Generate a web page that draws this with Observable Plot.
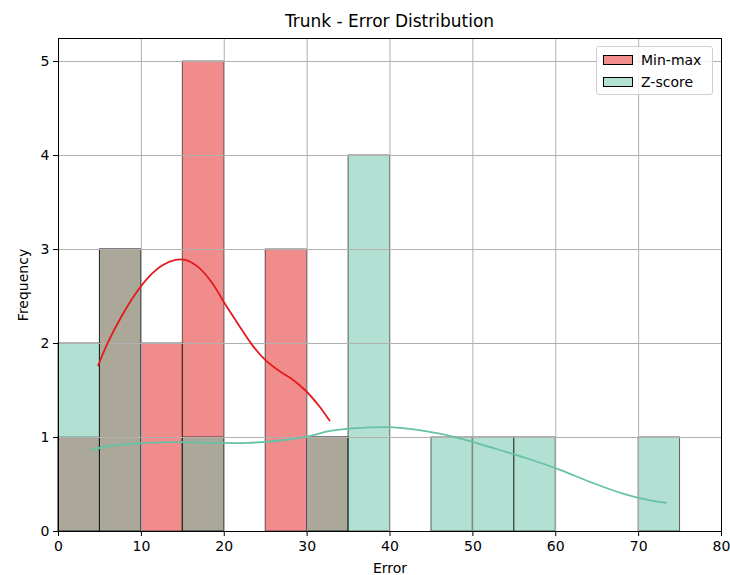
<!DOCTYPE html>
<html>
<head>
<meta charset="utf-8">
<script src="https://cdn.jsdelivr.net/npm/d3@7"></script>
<script src="https://cdn.jsdelivr.net/npm/@observablehq/plot@0.6"></script>
<style>
  html, body { margin: 0; padding: 0; background: white; }
  #wrap { position: relative; width: 730px; height: 575px; font-family: "DejaVu Sans", sans-serif; }
  #title { height: 30px; width: 730px; font-size: 17px; color: black; position: relative; }
  #title span { position: absolute; left: 389.5px; top: 11px; transform: translateX(-50%); white-space: nowrap; line-height: 20px; }
  #legend { position: absolute; left: 596px; top: 46px; width: 117px; height: 49px; border: 1px solid #d0d0d0; border-radius: 3px; background: rgba(255,255,255,0.8); box-sizing: border-box; font-size: 14px; }
  .lrow { position: absolute; left: 6px; height: 20px; display: flex; align-items: center; }
  .lpatch { width: 30px; height: 10px; border: 1px solid black; box-sizing: border-box; margin-right: 8px; }
</style>
</head>
<body>
<div id="wrap">
  <div id="title"><span>Trunk - Error Distribution</span></div>
  <div id="chart"></div>
  <div id="legend"></div>
</div>
<script>
// ---- data ----
const binStarts = [0, 5, 10, 15, 20, 25, 30, 35, 40, 45, 50, 55, 60, 65, 70];
const binWidth = 5;
const minmaxCounts = [1, 3, 2, 5, 0, 3, 1, 0, 0, 0, 0, 0, 0, 0, 0];
const zscoreCounts = [2, 3, 0, 1, 0, 0, 1, 4, 0, 1, 1, 1, 0, 0, 1];

const minmaxKdeX = [4.78, 6.07, 7.68, 9.29, 10.9, 12.5, 14.1, 15.3, 16.9, 18.5, 20.1, 21.8, 23.4, 25.0, 26.6, 28.2, 29.8, 31.4, 32.7];
const minmaxKdeY = [1.766, 2.03, 2.30, 2.53, 2.71, 2.83, 2.89, 2.89, 2.81, 2.65, 2.42, 2.19, 1.98, 1.82, 1.71, 1.62, 1.50, 1.34, 1.18];
const zscoreKdeX = [3.86, 6.67, 10.7, 14.7, 18.7, 22.8, 26.8, 30.0, 32.8, 36.0, 40.0, 44.1, 48.1, 52.1, 56.1, 60.2, 64.2, 68.2, 71.4, 73.3];
const zscoreKdeY = [0.869, 0.915, 0.943, 0.95, 0.943, 0.943, 0.968, 1.01, 1.07, 1.10, 1.11, 1.07, 1.00, 0.897, 0.79, 0.667, 0.525, 0.40, 0.33, 0.305];

const seriesNames = ["Min-max", "Z-score"];
const seriesColors = ["#e41a1c", "#66c2a5"];
const xTicks = [0, 10, 20, 30, 40, 50, 60, 70, 80];
const yTicks = [0, 1, 2, 3, 4, 5];

// ---- build tables ----
const mmBars = binStarts.map((s, i) => ({x1: s, x2: s + binWidth, y: minmaxCounts[i]})).filter(d => d.y > 0);
const zsBars = binStarts.map((s, i) => ({x1: s, x2: s + binWidth, y: zscoreCounts[i]})).filter(d => d.y > 0);
const mmKde = minmaxKdeX.map((x, i) => ({x, y: minmaxKdeY[i]}));
const zsKde = zscoreKdeX.map((x, i) => ({x, y: zscoreKdeY[i]}));

const chart = Plot.plot({
  width: 730,
  height: 545,
  marginLeft: 58,
  marginRight: 9,
  marginTop: 8,
  marginBottom: 44,
  style: {fontFamily: "DejaVu Sans, sans-serif", fontSize: "14px", color: "black", background: "white", overflow: "visible"},
  x: {domain: [0, 80], ticks: xTicks, label: null},
  y: {domain: [0, 5.245], ticks: yTicks, label: null},
  marks: [
    Plot.rectY(mmBars, {x1: "x1", x2: "x2", y: "y", fill: seriesColors[0], fillOpacity: 0.5, stroke: "black", strokeOpacity: 0.6, strokeWidth: 1, inset: 0}),
    Plot.rectY(zsBars, {x1: "x1", x2: "x2", y: "y", fill: seriesColors[1], fillOpacity: 0.5, stroke: "black", strokeOpacity: 0.6, strokeWidth: 1, inset: 0}),
    Plot.gridX(xTicks, {stroke: "#b0b0b0", strokeOpacity: 1, strokeWidth: 1}),
    Plot.gridY(yTicks, {stroke: "#b0b0b0", strokeOpacity: 1, strokeWidth: 1}),
    Plot.line(mmKde, {x: "x", y: "y", stroke: seriesColors[0], strokeWidth: 1.8, curve: "catmull-rom"}),
    Plot.line(zsKde, {x: "x", y: "y", stroke: seriesColors[1], strokeWidth: 1.8, curve: "catmull-rom"}),
    Plot.frame({stroke: "black", strokeWidth: 1}),
    Plot.axisX(xTicks, {tickSize: 5, tickPadding: 5, fontSize: 14, tickFormat: d3.format("d"), label: "Error", labelAnchor: "center", labelArrow: "none", labelOffset: 41}),
    Plot.axisY(yTicks, {tickSize: 5, tickPadding: 4, fontSize: 14, tickFormat: d3.format("d"), label: "Frequency", labelAnchor: "center", labelArrow: "none", labelOffset: 40})
  ]
});
document.getElementById("chart").appendChild(chart);

// ---- legend ----
const legend = document.getElementById("legend");
seriesNames.forEach((name, i) => {
  const row = document.createElement("div");
  row.className = "lrow";
  row.style.top = (3 + i * 21.5) + "px";
  const patch = document.createElement("div");
  patch.className = "lpatch";
  patch.style.background = d3.interpolateRgb("white", seriesColors[i])(0.5);
  const label = document.createElement("span");
  label.textContent = name;
  row.appendChild(patch);
  row.appendChild(label);
  legend.appendChild(row);
});
</script>
</body>
</html>
